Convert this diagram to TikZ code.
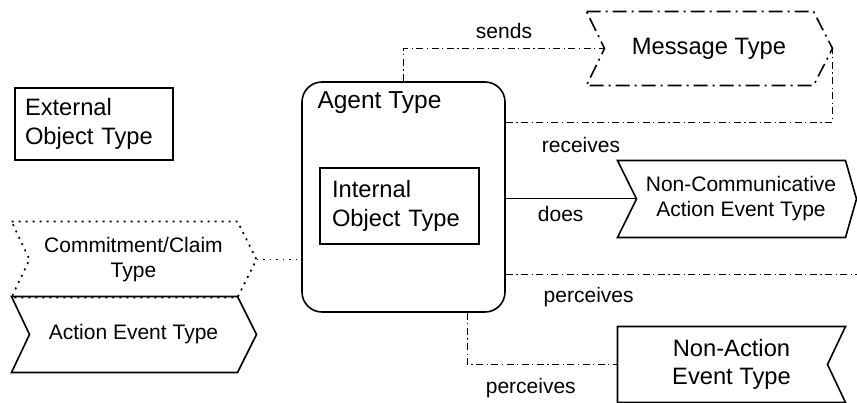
\documentclass[tikz,border=0pt]{standalone}
\usepackage{fontspec}
\setmainfont{Liberation Sans}
\usetikzlibrary{positioning,calc}

\newcommand\bigtxt{\fontsize{23.7}{28.5}\selectfont}
\newcommand\midtxt{\fontsize{21}{25}\selectfont}

\begin{document}
\begin{tikzpicture}[x=1pt, y=-1pt, line width=1pt]
\tikzstyle{box}=[draw=black, line width=1.6pt, inner sep=0pt, align=center]
\tikzstyle{body}=[inner sep=0pt, align=center]
\tikzstyle{outline}=[line width=1.6pt]
\tikzstyle{dashdot}=[dash pattern=on 7pt off 3.5pt on 1.2pt off 3.5pt]
\tikzstyle{lbl}=[anchor=base, inner sep=0pt, font=\midtxt]

\useasboundingbox (0,0) rectangle (857,403);

% agent and what it holds
\node[box, rounded corners=20pt, minimum width=203pt, minimum height=230pt] (agent) at (403.5,197) {};
\node[anchor=base west, inner sep=0pt, font=\fontsize{24.5}{29}\selectfont] (agentname) at (317,109) {Agent Type};
\node[box, align=left, inner xsep=12pt, text width=135pt, minimum height=76pt, font=\bigtxt] (int) at (399.5,206) {Internal\\Object Type};
\node[box, align=left, inner xsep=10pt, text width=138pt, minimum height=72pt, font=\bigtxt] (ext) at (94,124) {External\\Object Type};

% message and event types
\node[body, minimum width=208pt, minimum height=73pt, font=\bigtxt] (msg) at (709,48.5) {Message Type};
\node[body, minimum width=208pt, minimum height=76pt, font=\midtxt] (ncom) at (741,199) {Non-Communicative\\Action Event Type};
\node[body, minimum width=207pt, minimum height=75pt, font=\midtxt] (cc) at (133.5,259.5) {Commitment/Claim\\Type};
\node[body, minimum width=207pt, minimum height=75pt, font=\midtxt] (act) at (133.5,334.5) {Action Event Type};
\node[body, minimum width=227pt, minimum height=75pt, font=\bigtxt] (nact) at (731.5,364.5) {Non-Action\\Event Type};

\coordinate (msgtip) at ($(msg.east)+(19,0)$);
\coordinate (cctip) at ($(cc.east)+(19,0)$);
\coordinate (pend) at (857,275);

\draw[outline, dash pattern=on 14pt off 5pt on 2pt off 5pt]
  ($(msg.north west)+(-18,0)$) -- (msg.north east) -- (msgtip) -- (msg.south east)
  -- ($(msg.south west)+(-18,0)$) -- (msg.west) -- cycle;
\draw[outline]
  ($(ncom.north west)+(-19,0)$) -- (ncom.north east) -- ($(ncom.east)+(11,0)$) -- (ncom.south east)
  -- ($(ncom.south west)+(-19,0)$) -- (ncom.west) -- cycle;
\draw[outline, dash pattern=on 2pt off 5pt]
  ($(cc.north west)+(-18,0)$) -- (cc.north east) -- (cctip) -- (cc.south east)
  -- ($(cc.south west)+(-18,0)$) -- (cc.west) -- cycle;
\draw[outline]
  ($(act.north west)+(-18,0)$) -- (act.north east) -- ($(act.east)+(19,0)$) -- (act.south east)
  -- ($(act.south west)+(-18,0)$) -- (act.west) -- cycle;
\draw[outline]
  (nact.north west) -- (nact.north east) -- ($(nact.east)+(-18,0)$) -- (nact.south east)
  -- (nact.south west) -- cycle;

% connectors
\draw[dashdot] (agent.north) |- (msg.west) node[lbl, pos=0.75, yshift=10pt] {sends};
\draw[dashdot] ($(agent.north east)+(0,41)$) -| (msgtip) node[lbl, pos=0.115, yshift=-30pt] {receives};
\draw (agent.east |- ncom.west) -- (ncom.west) node[lbl, pos=0.42, yshift=-22.5pt] {does};
\draw[dashdot] (agent.east |- pend) -- (pend) node[lbl, pos=0.236, yshift=-28pt] {perceives};
\draw[dashdot] ($(agent.south)+(63.5,0)$) |- (nact.west) node[lbl, pos=0.712, yshift=-29pt] {perceives};
\draw[dash pattern=on 1.5pt off 5pt] (cctip) -- (agent.west |- cctip);
\end{tikzpicture}
\end{document}
